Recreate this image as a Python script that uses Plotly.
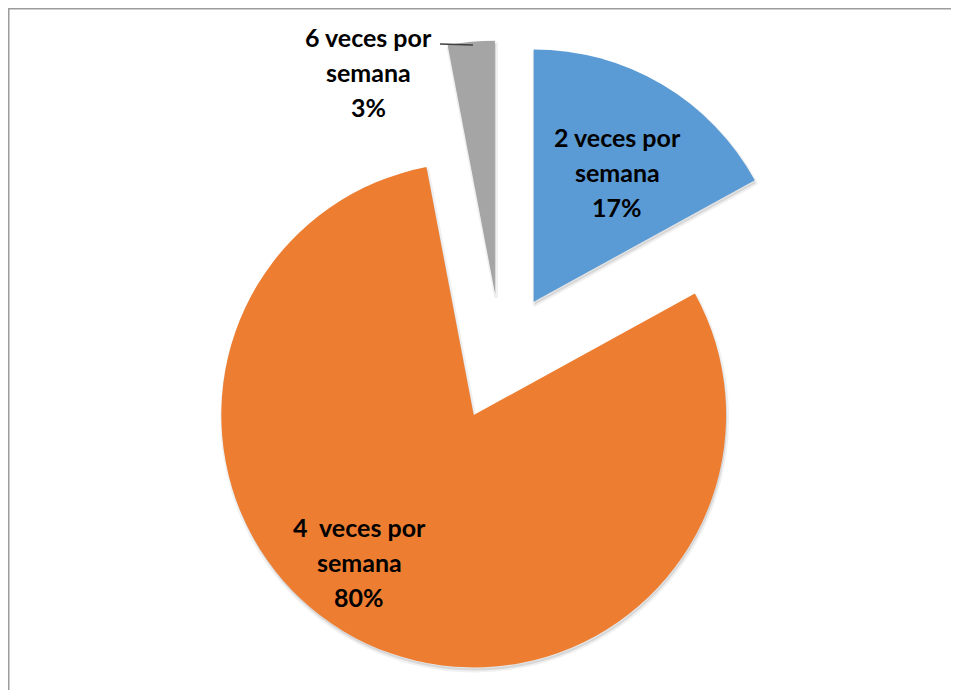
import plotly.graph_objects as go

# data
labels = ["2 veces por semana", "4  veces por semana", "6 veces por semana"]
label_lines = [["2 veces por", "semana"], ["4\u00a0 veces por", "semana"], ["6 veces por", "semana"]]
values = [17, 80, 3]
colors = ["#5b9bd5", "#ed7d31", "#a5a5a5"]

W, H = 959, 690
OFF = 8  # page body margin around the plot div

# label block anchors (page px, centre of first line)
label_pos = [(617, 137), (359, 527), (368, 37)]
line_gap = 35

# pie geometry (page px)
cx, cy = 501, 357
box = 633
pull = 0.254


def px(x):
    return (x - OFF) / W


def py(y):
    return 1 - (y - OFF) / H


def pie_domain(dx=0.0, dy=0.0):
    return dict(x=[px(cx + dx - box / 2 - 60), px(cx + dx + box / 2 + 60)],
                y=[py(cy + dy + box / 2), py(cy + dy - box / 2)])


fig = go.Figure()

# soft drop shadow under the slices
fig.add_trace(go.Pie(
    labels=labels, values=values, sort=False, direction="clockwise", rotation=0,
    pull=[pull] * len(values),
    marker=dict(colors=["rgba(0,0,0,0.10)"] * len(values),
                line=dict(color="rgba(0,0,0,0.06)", width=4)),
    textinfo="none", hoverinfo="skip", showlegend=False,
    domain=pie_domain(1, 3),
))

fig.add_trace(go.Pie(
    labels=labels,
    values=values,
    sort=False,
    direction="clockwise",
    rotation=0,
    pull=[pull] * len(values),
    marker=dict(colors=colors, line=dict(width=0)),
    textinfo="none",
    hoverinfo="label+percent",
    showlegend=False,
    domain=pie_domain(),
))

total = sum(values)
annotations = []
for lines, v, (lx, ly) in zip(label_lines, values, label_pos):
    pct = f"{round(100 * v / total)}%"
    for i, t in enumerate(lines + [pct]):
        annotations.append(dict(
            x=px(lx), y=py(ly + i * line_gap), xref="paper", yref="paper",
            text=f"<b>{t}</b>", showarrow=False,
            xanchor="center", yanchor="middle",
            font=dict(family="Lato", size=25, color="#000000"),
        ))

shapes = [
    # chart-area border (top and left edges visible)
    dict(type="line", xref="paper", yref="paper",
         x0=0, y0=py(8.75), x1=1, y1=py(8.75),
         line=dict(color="#9c9c9c", width=1.5)),
    dict(type="line", xref="paper", yref="paper",
         x0=px(8.75), y0=py(8), x1=px(8.75), y1=0,
         line=dict(color="#9c9c9c", width=1.5)),
    # leader line for the small slice
    dict(type="line", xref="paper", yref="paper",
         x0=px(440), y0=py(44), x1=px(473), y1=py(45),
         line=dict(color="#404040", width=1.5)),
]

fig.update_layout(
    width=W, height=H,
    margin=dict(l=0, r=0, t=0, b=0),
    paper_bgcolor="white",
    plot_bgcolor="white",
    annotations=annotations,
    shapes=shapes,
)

fig.write_html("out.html")
